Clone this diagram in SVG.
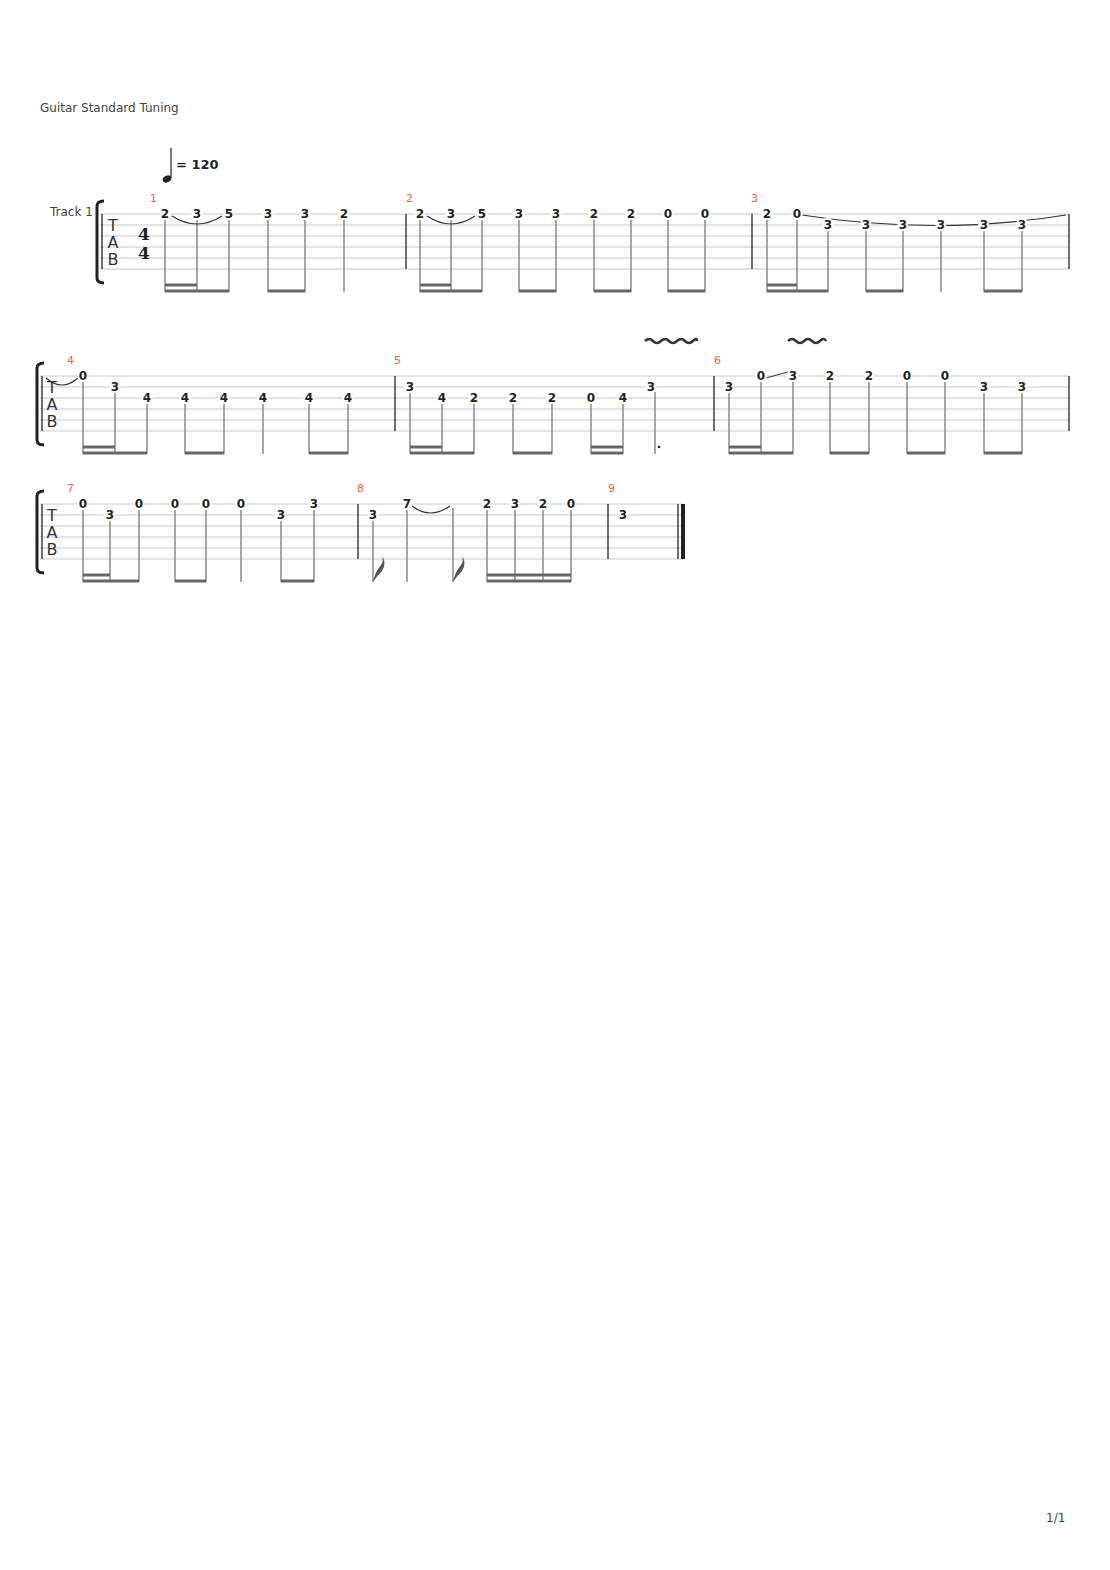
<svg xmlns="http://www.w3.org/2000/svg" width="1110" height="1570" viewBox="0 0 1110 1570">
<style>
.sl{stroke:#c8c8c8;stroke-width:1}
.bar{stroke:#222;stroke-width:1.3}
.st{stroke:#8a8a8a;stroke-width:1.5}
.bm{stroke:#666;stroke-width:3}
.n{font-family:"DejaVu Sans",sans-serif;font-size:12px;font-weight:bold;fill:#222;text-anchor:middle;stroke:#fff;stroke-width:4;paint-order:stroke}
.mn{font-family:"DejaVu Sans",sans-serif;font-size:11px;fill:#f0643c}
.t{font-family:"DejaVu Sans",sans-serif;font-size:12px;fill:#444}
.tab{font-family:"DejaVu Sans",sans-serif;font-size:16px;fill:#333;text-anchor:middle}
.tie{fill:none;stroke:#333;stroke-width:1.2}
.vib{fill:none;stroke:#333;stroke-width:2.5}
.br{fill:none;stroke:#222;stroke-width:3}
.ts{font-family:"DejaVu Serif",serif;font-size:17px;font-weight:bold;fill:#222;text-anchor:middle}
</style>
<rect width="1110" height="1570" fill="#fff"/>
<text class="t" x="40" y="112">Guitar Standard Tuning</text>
<g id="tempo">
<line x1="171" y1="148" x2="171" y2="178" stroke="#222" stroke-width="1.2"/>
<ellipse cx="167" cy="179" rx="4.5" ry="3.3" fill="#222" transform="rotate(-25 167 179)"/>
<text x="176" y="169" font-family="DejaVu Sans,sans-serif" font-size="13" font-weight="bold" fill="#222">= 120</text>
</g>
<text class="t" x="50" y="216">Track 1</text>
<g id="sys1">
<g class="sl">
<line x1="100" y1="214" x2="1069" y2="214"/><line x1="100" y1="225" x2="1069" y2="225"/><line x1="100" y1="236" x2="1069" y2="236"/><line x1="100" y1="247" x2="1069" y2="247"/><line x1="100" y1="258" x2="1069" y2="258"/><line x1="100" y1="269" x2="1069" y2="269"/>
</g>
<path class="br" d="M104 201 Q97 201 97 206 L97 278 Q97 283 104 283"/>
<line x1="102" y1="214" x2="102" y2="269" class="bar"/>
<text class="tab" x="113" y="231">T</text><text class="tab" x="113" y="248">A</text><text class="tab" x="113" y="265">B</text>
<text class="ts" x="144" y="240">4</text>
<text class="ts" x="144" y="259">4</text>
<line class="bar" x1="406" y1="214" x2="406" y2="269"/><line class="bar" x1="752" y1="214" x2="752" y2="269"/><line class="bar" x1="1069" y1="214" x2="1069" y2="269"/>
<text class="mn" x="150" y="202">1</text><text class="mn" x="406" y="202">2</text><text class="mn" x="751" y="202">3</text>
<g class="st">
<line x1="165" y1="218" x2="165" y2="292"/><line x1="197" y1="218" x2="197" y2="292"/><line x1="229" y1="218" x2="229" y2="292"/><line x1="268" y1="218" x2="268" y2="292"/><line x1="305" y1="218" x2="305" y2="292"/><line x1="344" y1="218" x2="344" y2="292"/>
<line x1="420" y1="218" x2="420" y2="292"/><line x1="451" y1="218" x2="451" y2="292"/><line x1="482" y1="218" x2="482" y2="292"/><line x1="519" y1="218" x2="519" y2="292"/><line x1="556" y1="218" x2="556" y2="292"/><line x1="594" y1="218" x2="594" y2="292"/><line x1="631" y1="218" x2="631" y2="292"/><line x1="668" y1="218" x2="668" y2="292"/><line x1="705" y1="218" x2="705" y2="292"/>
<line x1="767" y1="218" x2="767" y2="292"/><line x1="797" y1="218" x2="797" y2="292"/><line x1="828" y1="229" x2="828" y2="292"/><line x1="866" y1="229" x2="866" y2="292"/><line x1="903" y1="229" x2="903" y2="292"/><line x1="941" y1="229" x2="941" y2="292"/><line x1="984" y1="229" x2="984" y2="292"/><line x1="1022" y1="229" x2="1022" y2="292"/>
</g>
<g class="bm">
<line x1="165" y1="291" x2="229" y2="291"/><line x1="165" y1="285" x2="197" y2="285"/><line x1="268" y1="291" x2="305" y2="291"/>
<line x1="420" y1="291" x2="482" y2="291"/><line x1="420" y1="285" x2="451" y2="285"/><line x1="519" y1="291" x2="556" y2="291"/><line x1="594" y1="291" x2="631" y2="291"/><line x1="668" y1="291" x2="705" y2="291"/>
<line x1="767" y1="291" x2="828" y2="291"/><line x1="767" y1="285" x2="797" y2="285"/><line x1="866" y1="291" x2="903" y2="291"/><line x1="984" y1="291" x2="1022" y2="291"/>
</g>
<path class="tie" d="M172 216 Q197 232 222 216"/><path class="tie" d="M427 216 Q451 232 475 216"/><path class="tie" d="M802 215 Q935 236 1066 215"/>
<text class="n" x="165" y="218">2</text><text class="n" x="197" y="218">3</text><text class="n" x="229" y="218">5</text><text class="n" x="268" y="218">3</text><text class="n" x="305" y="218">3</text><text class="n" x="344" y="218">2</text>
<text class="n" x="420" y="218">2</text><text class="n" x="451" y="218">3</text><text class="n" x="482" y="218">5</text><text class="n" x="519" y="218">3</text><text class="n" x="556" y="218">3</text><text class="n" x="594" y="218">2</text><text class="n" x="631" y="218">2</text><text class="n" x="668" y="218">0</text><text class="n" x="705" y="218">0</text>
<text class="n" x="767" y="218">2</text><text class="n" x="797" y="218">0</text><text class="n" x="828" y="229">3</text><text class="n" x="866" y="229">3</text><text class="n" x="903" y="229">3</text><text class="n" x="941" y="229">3</text><text class="n" x="984" y="229">3</text><text class="n" x="1022" y="229">3</text>
</g>
<g id="sys2">
<g class="sl">
<line x1="40" y1="376" x2="1069" y2="376"/><line x1="40" y1="387" x2="1069" y2="387"/><line x1="40" y1="398" x2="1069" y2="398"/><line x1="40" y1="409" x2="1069" y2="409"/><line x1="40" y1="420" x2="1069" y2="420"/><line x1="40" y1="431" x2="1069" y2="431"/>
</g>
<path class="br" d="M44 363 Q37 363 37 368 L37 440 Q37 445 44 445"/>
<line x1="42" y1="376" x2="42" y2="431" class="bar"/>
<text class="tab" x="52" y="393">T</text><text class="tab" x="52" y="410">A</text><text class="tab" x="52" y="427">B</text>
<line class="bar" x1="395" y1="376" x2="395" y2="431"/><line class="bar" x1="714" y1="376" x2="714" y2="431"/><line class="bar" x1="1069" y1="376" x2="1069" y2="431"/>
<text class="mn" x="67" y="364">4</text><text class="mn" x="394" y="364">5</text><text class="mn" x="714" y="364">6</text>
<path class="vib" d="M645 341 q4 -4 8 0 t8 0 t8 0 t8 0 t8 0 t8 0 t4 0"/>
<path class="vib" d="M788 341 q4 -4 8 0 t8 0 t8 0 t8 0 t6 0"/>
<g class="st">
<line x1="83" y1="380" x2="83" y2="454"/><line x1="115" y1="391" x2="115" y2="454"/><line x1="147" y1="402" x2="147" y2="454"/><line x1="185" y1="402" x2="185" y2="454"/><line x1="224" y1="402" x2="224" y2="454"/><line x1="263" y1="402" x2="263" y2="454"/><line x1="309" y1="402" x2="309" y2="454"/><line x1="348" y1="402" x2="348" y2="454"/>
<line x1="410" y1="391" x2="410" y2="454"/><line x1="442" y1="402" x2="442" y2="454"/><line x1="474" y1="402" x2="474" y2="454"/><line x1="513" y1="402" x2="513" y2="454"/><line x1="552" y1="402" x2="552" y2="454"/><line x1="591" y1="402" x2="591" y2="454"/><line x1="623" y1="402" x2="623" y2="454"/><line x1="655" y1="392" x2="655" y2="454"/>
<line x1="729" y1="391" x2="729" y2="454"/><line x1="761" y1="380" x2="761" y2="454"/><line x1="793" y1="380" x2="793" y2="454"/><line x1="830" y1="380" x2="830" y2="454"/><line x1="869" y1="380" x2="869" y2="454"/><line x1="907" y1="380" x2="907" y2="454"/><line x1="945" y1="380" x2="945" y2="454"/><line x1="984" y1="391" x2="984" y2="454"/><line x1="1022" y1="391" x2="1022" y2="454"/>
</g>
<g class="bm">
<line x1="83" y1="453" x2="147" y2="453"/><line x1="83" y1="447" x2="115" y2="447"/><line x1="185" y1="453" x2="224" y2="453"/><line x1="309" y1="453" x2="348" y2="453"/>
<line x1="410" y1="453" x2="474" y2="453"/><line x1="410" y1="447" x2="442" y2="447"/><line x1="513" y1="453" x2="552" y2="453"/><line x1="591" y1="453" x2="623" y2="453"/><line x1="591" y1="447" x2="623" y2="447"/>
<line x1="729" y1="453" x2="793" y2="453"/><line x1="729" y1="447" x2="761" y2="447"/><line x1="830" y1="453" x2="869" y2="453"/><line x1="907" y1="453" x2="945" y2="453"/><line x1="984" y1="453" x2="1022" y2="453"/>
</g>
<circle cx="659" cy="447" r="1.3" fill="#222"/>
<path class="tie" d="M46 378 Q62 392 78 378"/>
<line x1="766" y1="378" x2="788" y2="372" stroke="#333" stroke-width="1"/>
<text class="n" x="83" y="380">0</text><text class="n" x="115" y="391">3</text><text class="n" x="147" y="402">4</text><text class="n" x="185" y="402">4</text><text class="n" x="224" y="402">4</text><text class="n" x="263" y="402">4</text><text class="n" x="309" y="402">4</text><text class="n" x="348" y="402">4</text>
<text class="n" x="410" y="391">3</text><text class="n" x="442" y="402">4</text><text class="n" x="474" y="402">2</text><text class="n" x="513" y="402">2</text><text class="n" x="552" y="402">2</text><text class="n" x="591" y="402">0</text><text class="n" x="623" y="402">4</text><text class="n" x="651" y="391">3</text>
<text class="n" x="729" y="391">3</text><text class="n" x="761" y="380">0</text><text class="n" x="793" y="380">3</text><text class="n" x="830" y="380">2</text><text class="n" x="869" y="380">2</text><text class="n" x="907" y="380">0</text><text class="n" x="945" y="380">0</text><text class="n" x="984" y="391">3</text><text class="n" x="1022" y="391">3</text>
</g>
<g id="sys3">
<g class="sl">
<line x1="40" y1="504" x2="683" y2="504"/><line x1="40" y1="515" x2="683" y2="515"/><line x1="40" y1="526" x2="683" y2="526"/><line x1="40" y1="537" x2="683" y2="537"/><line x1="40" y1="548" x2="683" y2="548"/><line x1="40" y1="559" x2="683" y2="559"/>
</g>
<path class="br" d="M44 491 Q37 491 37 496 L37 568 Q37 573 44 573"/>
<line x1="42" y1="504" x2="42" y2="559" class="bar"/>
<text class="tab" x="52" y="521">T</text><text class="tab" x="52" y="538">A</text><text class="tab" x="52" y="555">B</text>
<line class="bar" x1="358" y1="504" x2="358" y2="559"/><line class="bar" x1="608" y1="504" x2="608" y2="559"/><line class="bar" x1="678" y1="504" x2="678" y2="559"/>
<rect x="681" y="504" width="4" height="55" fill="#222"/>
<text class="mn" x="67" y="492">7</text><text class="mn" x="357" y="492">8</text><text class="mn" x="608" y="492">9</text>
<g class="st">
<line x1="83" y1="508" x2="83" y2="582"/><line x1="110" y1="519" x2="110" y2="582"/><line x1="139" y1="508" x2="139" y2="582"/><line x1="175" y1="508" x2="175" y2="582"/><line x1="206" y1="508" x2="206" y2="582"/><line x1="241" y1="508" x2="241" y2="582"/><line x1="281" y1="519" x2="281" y2="582"/><line x1="314" y1="508" x2="314" y2="582"/>
<line x1="373" y1="519" x2="373" y2="582"/><line x1="407" y1="508" x2="407" y2="582"/><line x1="453" y1="508" x2="453" y2="582"/><line x1="487" y1="508" x2="487" y2="582"/><line x1="515" y1="508" x2="515" y2="582"/><line x1="543" y1="508" x2="543" y2="582"/><line x1="571" y1="508" x2="571" y2="582"/>
</g>
<g class="bm">
<line x1="83" y1="581" x2="139" y2="581"/><line x1="83" y1="575" x2="110" y2="575"/><line x1="175" y1="581" x2="206" y2="581"/><line x1="281" y1="581" x2="314" y2="581"/>
<line x1="487" y1="581" x2="571" y2="581"/><line x1="487" y1="575" x2="571" y2="575"/>
</g>
<path d="M373 582 Q375 572 381 565 Q384 561 382 556 Q387 563 382 571 Q377 576 373 582Z" fill="#555"/>
<path d="M453 582 Q455 572 461 565 Q464 561 462 556 Q467 563 462 571 Q457 576 453 582Z" fill="#555"/>
<path class="tie" d="M412 506 Q430 520 450 506"/>
<text class="n" x="83" y="508">0</text><text class="n" x="110" y="519">3</text><text class="n" x="139" y="508">0</text><text class="n" x="175" y="508">0</text><text class="n" x="206" y="508">0</text><text class="n" x="241" y="508">0</text><text class="n" x="281" y="519">3</text><text class="n" x="314" y="508">3</text>
<text class="n" x="373" y="519">3</text><text class="n" x="407" y="508">7</text><text class="n" x="487" y="508">2</text><text class="n" x="515" y="508">3</text><text class="n" x="543" y="508">2</text><text class="n" x="571" y="508">0</text>
<text class="n" x="623" y="519">3</text>
</g>
<text class="t" x="1046" y="1522">1/1</text>
</svg>
